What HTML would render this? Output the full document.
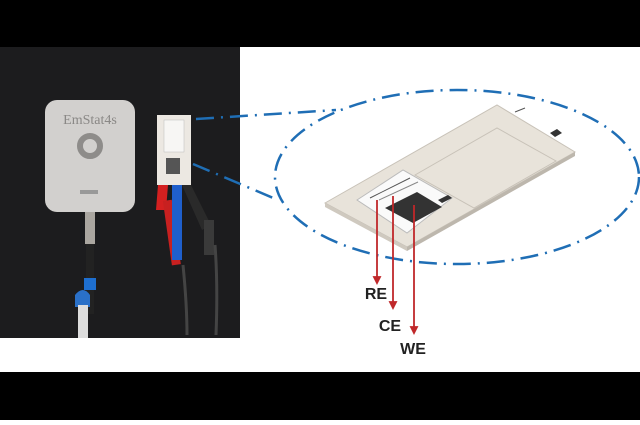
<!DOCTYPE html>
<html><head><style>
body{margin:0;width:640px;height:420px;background:#fff;overflow:hidden;font-family:"Liberation Sans",sans-serif}
</style></head><body>
<svg width="640" height="420" viewBox="0 0 640 420">
<rect x="0" y="0" width="640" height="47" fill="#000"/>
<rect x="0" y="372" width="640" height="48" fill="#000"/>
<rect x="0" y="47" width="240" height="291" fill="#1c1c1e"/>
<!-- device -->
<rect x="45" y="100" width="90" height="112" rx="12" fill="#d2d0ce"/>
<text x="90" y="124" font-family="Liberation Serif" font-size="14" fill="#8a8886" text-anchor="middle">EmStat4s</text>
<circle cx="90" cy="146" r="10" fill="none" stroke="#8e8c8a" stroke-width="6"/>
<rect x="80" y="190" width="18" height="4" fill="#999"/>
<rect x="85" y="212" width="10" height="32" fill="#aaa6a0"/>
<rect x="86" y="244" width="8" height="70" fill="#222"/>
<rect x="84" y="278" width="12" height="12" fill="#1e6fd0"/>
<path d="M75 295 q8 -10 15 0 v12 h-15z" fill="#2a70c8"/>
<rect x="78" y="305" width="10" height="33" fill="#ddd"/>
<!-- sensor holder -->
<rect x="157" y="115" width="34" height="70" fill="#ece8e2"/>
<rect x="164" y="120" width="20" height="32" fill="#f7f6f4" stroke="#bbb" stroke-width="0.5"/>
<rect x="166" y="158" width="14" height="16" fill="#555"/>
<path d="M158 185 l10 0 l-2 25 l-10 0z" fill="#d42020"/>
<rect x="167" y="200" width="9" height="65" fill="#c82020" transform="rotate(-8 172 230)"/>
<rect x="172" y="185" width="10" height="75" fill="#1f5fcc"/>
<path d="M182 185 l9 0 l20 40 l-9 5z" fill="#2a2a2a"/>
<rect x="204" y="220" width="10" height="35" fill="#3a3a3a"/>
<path d="M183 265 q4 40 4 70 M215 245 q3 40 1 90" stroke="#444" stroke-width="3" fill="none"/>
<!-- ellipse + connectors -->
<ellipse cx="457" cy="177" rx="182" ry="87" fill="none" stroke="#1f6eb5" stroke-width="2.5" stroke-dasharray="18 7 2 7"/>
<line x1="196" y1="119" x2="336" y2="110" stroke="#1f6eb5" stroke-width="2.5" stroke-dasharray="18 7 2 7"/>
<line x1="193" y1="164" x2="278" y2="200" stroke="#1f6eb5" stroke-width="2.5" stroke-dasharray="18 7 2 7"/>
<!-- strip -->
<polygon points="325,203 497,105 575,152 407,247" fill="#e8e3da" stroke="#c8c2b8"/>
<polygon points="325,203 407,247 407,251 325,207" fill="#cfc9bf"/>
<polygon points="407,247 575,152 575,156 407,251" fill="#bdb7ad"/>
<polygon points="415,175 497,128 556,161 474,208" fill="none" stroke="#c8c2b8"/>
<polygon points="357,200 403,170 452,198 407,233" fill="#fafafa" stroke="#bbb"/>
<polygon points="385,208 417,192 442,207 413,223" fill="#333"/>
<polygon points="438,200 448,195 452,198 442,203" fill="#333"/>
<line x1="370" y1="198" x2="410" y2="178" stroke="#555" stroke-width="1"/>
<line x1="379" y1="200" x2="418" y2="182" stroke="#888" stroke-width="1"/>
<polygon points="550,133 557,129 562,133 555,137" fill="#333"/>
<line x1="515" y1="112" x2="525" y2="108" stroke="#555"/>
<!-- arrows -->
<g stroke="#c0282a" stroke-width="1.8" fill="#c0282a">
<line x1="377" y1="200" x2="377" y2="278"/><polygon points="374,277 380,277 377,283"/>
<line x1="393" y1="196" x2="393" y2="303"/><polygon points="390,302 396,302 393,308"/>
<line x1="414" y1="205" x2="414" y2="328"/><polygon points="411,327 417,327 414,333"/>
</g>
<g font-weight="bold" font-size="16" fill="#222" text-anchor="middle">
<text x="376" y="299">RE</text>
<text x="390" y="331">CE</text>
<text x="413" y="354">WE</text>
</g>
</svg>
</body></html>
